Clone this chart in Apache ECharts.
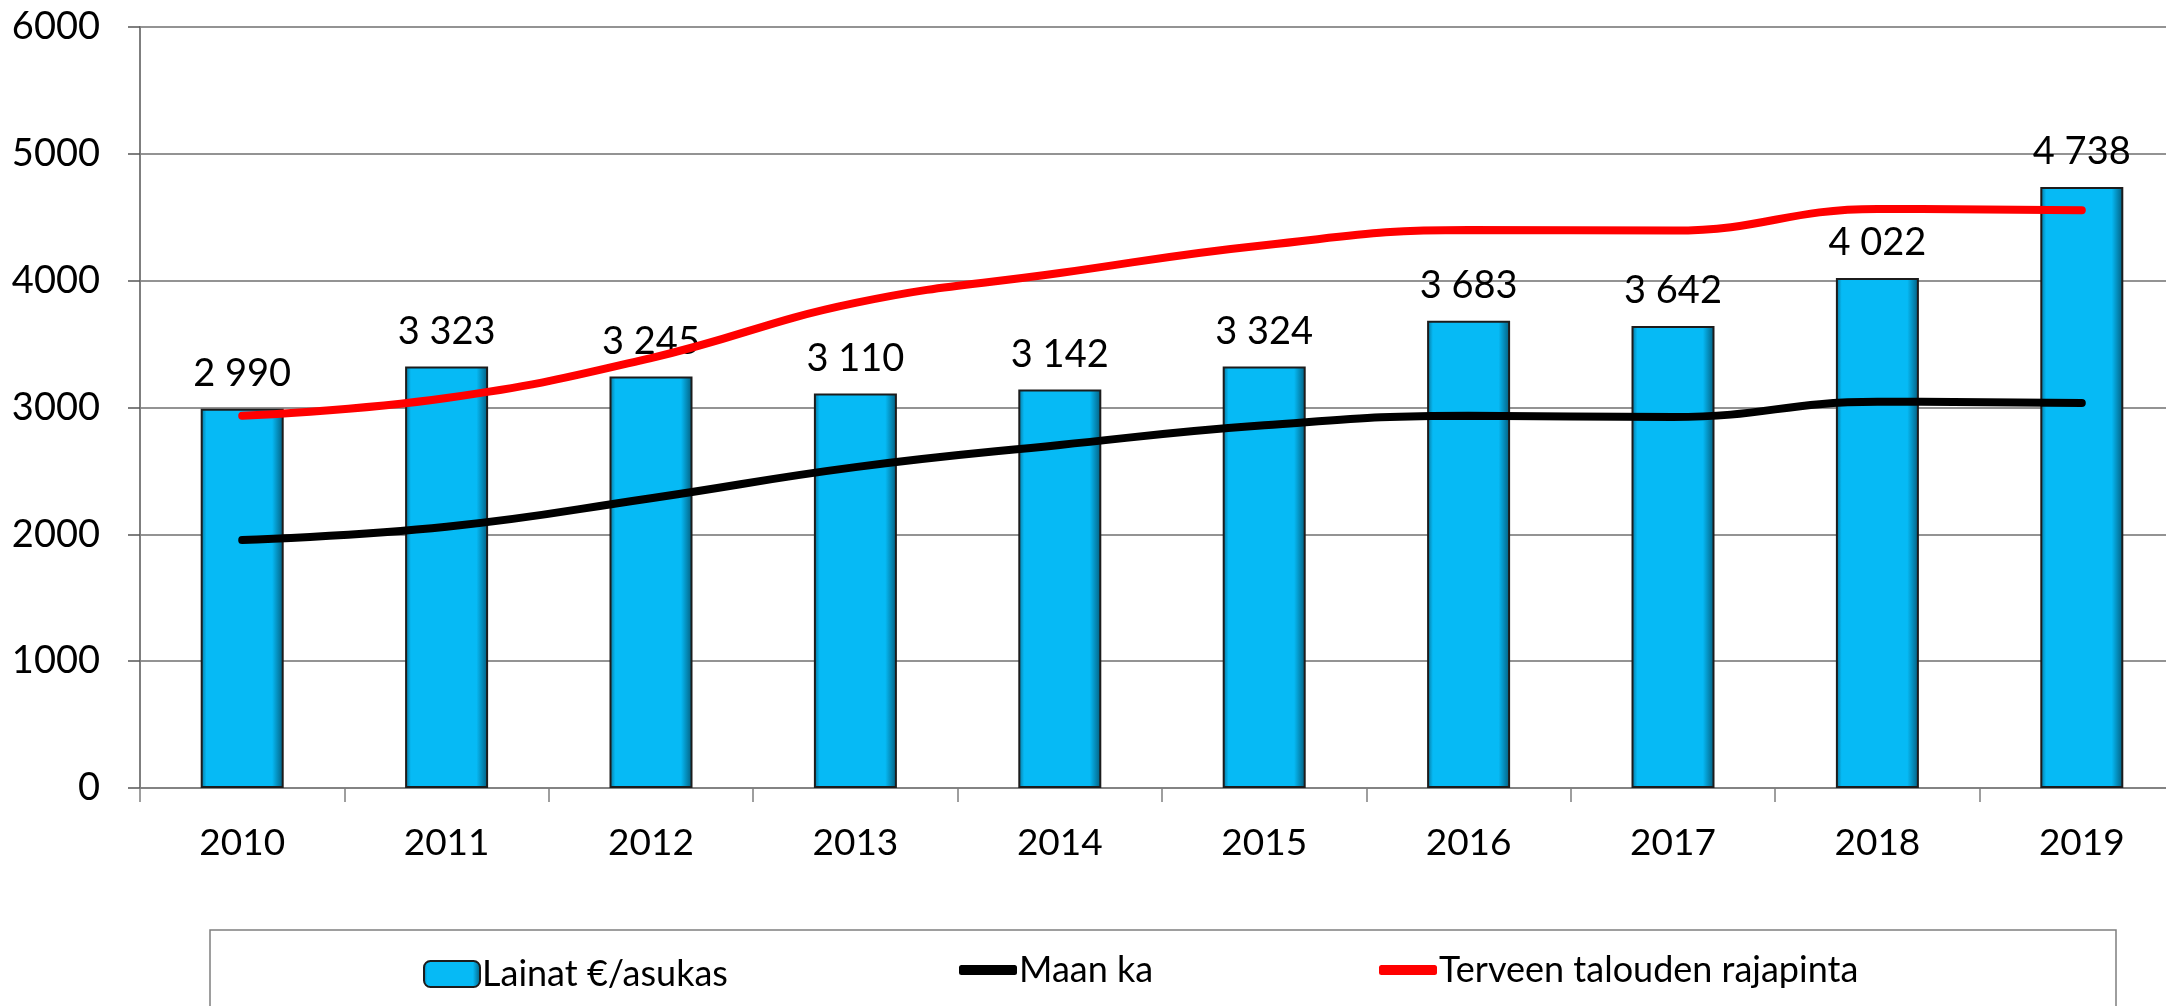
<!DOCTYPE html>
<html lang="fi">
<head>
<meta charset="utf-8">
<title>Lainat €/asukas</title>
<script src="https://cdn.jsdelivr.net/npm/echarts@6/dist/echarts.min.js"></script>
<style>
  html, body { margin: 0; padding: 0; background: #fff; overflow: hidden; }
  /* the plot runs past the right edge of the picture, as in the original */
  #chart { width: 2200px; height: 1006px; }
</style>
</head>
<body>
<div id="chart"></div>
<script>
const years = ["2010", "2011", "2012", "2013", "2014", "2015", "2016", "2017", "2018", "2019"];
const loans = [2990, 3323, 3245, 3110, 3142, 3324, 3683, 3642, 4022, 4738];
const countryAvg = [1955, 2060, 2285, 2530, 2705, 2860, 2935, 2925, 3045, 3035];
const healthyLimit = [2935, 3075, 3390, 3825, 4060, 4280, 4400, 4395, 4565, 4555];
const yTicks = [0, 1000, 2000, 3000, 4000, 5000, 6000];

const FONT = "Lato";

const chart = echarts.init(document.querySelector("#chart"));

function spaced(value) {
  return String(value).replace(/\B(?=(\d{3})+(?!\d))/g, " ");
}

function lineLegend(name, left, color) {
  return {
    data: [{ name, icon: "roundRect", itemStyle: { color } }],
    left,
    top: 952,
    itemWidth: 58,
    itemHeight: 10,
    itemGap: 0,
    padding: 0,
    textStyle: { fontFamily: FONT, fontSize: 36, color: "#000", padding: [0, 0, 0, -3] },
  };
}

chart.setOption({
  animation: false,
  backgroundColor: "#fff",
  grid: { left: 140, top: 27, width: 2044, height: 761, containLabel: false },
  graphic: [
    {
      type: "rect",
      shape: { x: 210, y: 930, width: 1906, height: 120 },
      style: { fill: "none", stroke: "#7f7f7f", lineWidth: 1.5 },
      silent: true,
    },
  ],
  legend: [
    {
      data: ["Lainat €/asukas"],
      left: 423,
      top: 956,
      itemWidth: 56,
      itemHeight: 26,
      padding: 0,
      textStyle: { fontFamily: FONT, fontSize: 36, color: "#000", padding: [0, 0, 0, -3] },
    },
    lineLegend("Maan ka", 959, "#000"),
    lineLegend("Terveen talouden rajapinta", 1379, "#ff0000"),
  ],
  xAxis: {
    type: "category",
    data: years,
    axisLine: { lineStyle: { color: "#7f7f7f", width: 1.5 } },
    axisTick: { show: true, length: 14, lineStyle: { color: "#7f7f7f", width: 1.5 } },
    axisLabel: { fontFamily: FONT, fontSize: 37, color: "#000", margin: 37 },
  },
  yAxis: {
    type: "value",
    min: yTicks[0],
    max: yTicks[yTicks.length - 1],
    interval: 1000,
    axisLine: { show: true, lineStyle: { color: "#7f7f7f", width: 2 } },
    axisTick: { show: true, length: 12, lineStyle: { color: "#555", width: 1.5 } },
    axisLabel: {
      fontFamily: FONT,
      fontSize: 38,
      color: "#000",
      margin: 40,
      formatter: (value) => String(value),
    },
    splitLine: { lineStyle: { color: "#6f6f6f", width: 1.5 } },
  },
  series: [
    {
      name: "Lainat €/asukas",
      type: "bar",
      data: loans,
      barWidth: 83,
      itemStyle: {
        color: {
          type: "linear",
          x: 0,
          y: 0,
          x2: 1,
          y2: 0,
          colorStops: [
            { offset: 0, color: "#086f94" },
            { offset: 0.07, color: "#06baf5" },
            { offset: 0.86, color: "#06baf5" },
            { offset: 1, color: "#035a7a" },
          ],
        },
        borderColor: "#1c1c1c",
        borderWidth: 2,
      },
      label: {
        show: true,
        position: "top",
        distance: 16,
        fontFamily: FONT,
        fontSize: 38,
        color: "#000",
        formatter: (params) => spaced(params.value),
      },
      z: 2,
    },
    {
      name: "Maan ka",
      type: "line",
      data: countryAvg,
      smooth: 0.45,
      showSymbol: false,
      lineStyle: { color: "#000", width: 8, cap: "round" },
      itemStyle: { color: "#000" },
      z: 3,
    },
    {
      name: "Terveen talouden rajapinta",
      type: "line",
      data: healthyLimit,
      smooth: 0.45,
      showSymbol: false,
      lineStyle: { color: "#ff0000", width: 8, cap: "round" },
      itemStyle: { color: "#ff0000" },
      z: 3,
    },
  ],
});
</script>
</body>
</html>
